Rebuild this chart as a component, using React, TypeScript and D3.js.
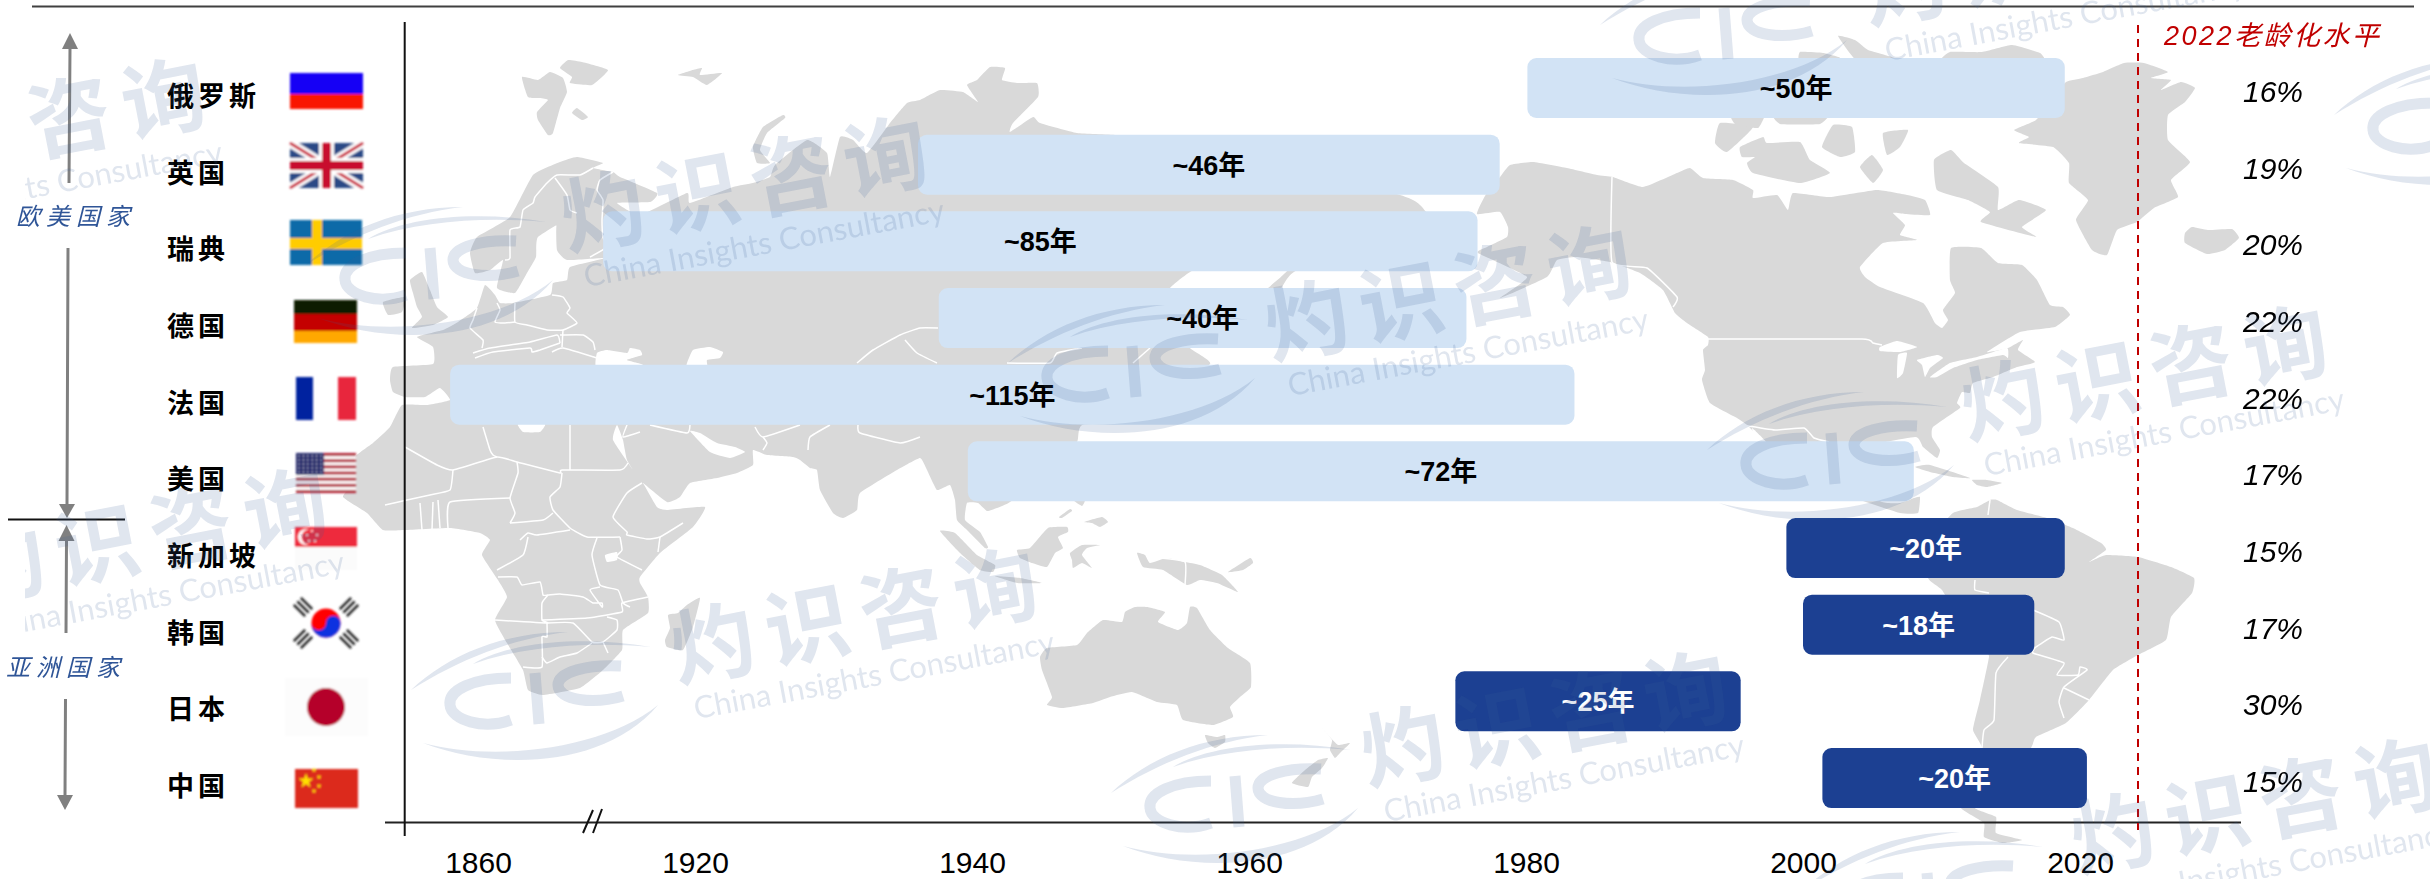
import { useEffect, useRef } from "react";
import * as d3 from "d3";

const WIDTH = 2430;
const HEIGHT = 879;

// chart data
const countries = ["俄罗斯", "英国", "瑞典", "德国", "法国", "美国", "新加坡", "韩国", "日本", "中国"];
const startYears = [1980.1, 1936.1, 1894.6, 1937.6, 1852.3, 1939.7, 1998.8, 2000, 1974.9, 2001.4];
const endYears = [2018.9, 1978.1, 1976.5, 1975.7, 1983.5, 2008, 2018.9, 2016.7, 1995.5, 2020.5];
const durations = ["~50年", "~46年", "~85年", "~40年", "~115年", "~72年", "~20年", "~18年", "~25年", "~20年"];
const agingRates = ["16%", "19%", "20%", "22%", "22%", "17%", "15%", "17%", "30%", "15%"];
const asianCountries = ["新加坡", "韩国", "日本", "中国"];
const tickYears = [1860, 1920, 1940, 1960, 1980, 2000, 2020];

// background map outlines, hand traced in page pixels
const afroEurasia = [[470,253],[477,237],[510,217],[533,175],[560,162],[577,157],[603,163],[593,168],[613,172],[620,177],[657,193],[650,202],[617,203],[640,215],[687,193],[690,203],[733,187],[753,183],[770,177],[775,165],[807,140],[827,153],[830,177],[840,137],[853,140],[867,153],[890,123],[907,103],[920,100],[940,90],[963,92],[978,102],[967,85],[977,80],[990,67],[1005,68],[1002,80],[1017,83],[1037,83],[1038,97],[1013,123],[1010,132],[1033,117],[1040,123],[1077,133],[1117,135],[1200,140],[1300,165],[1400,195],[1413,200],[1422,207],[1440,240],[1298,270],[1280,290],[1266,290],[1288,268],[1210,265],[1190,272],[1170,288],[1165,310],[1190,348],[1210,364],[1150,400],[1082,425],[1077,442],[1050,470],[1010,502],[997,508],[987,511],[978,503],[967,503],[965,520],[980,532],[988,547],[985,548],[967,530],[957,520],[955,500],[950,485],[937,490],[927,470],[920,458],[897,470],[860,493],[857,510],[843,518],[833,513],[820,490],[817,470],[810,468],[800,460],[793,457],[767,455],[753,450],[753,465],[737,473],[717,478],[690,483],[680,497],[667,502],[640,480],[627,460],[623,440],[617,425],[613,440],[633,470],[643,483],[657,507],[667,510],[705,507],[693,527],[660,553],[640,577],[640,583],[648,597],[648,613],[623,630],[622,650],[603,670],[580,688],[543,695],[528,690],[523,670],[507,643],[495,620],[507,597],[498,580],[482,555],[490,540],[480,533],[450,528],[405,530],[383,530],[367,513],[343,497],[353,483],[355,457],[373,443],[390,427],[402,405],[427,405],[450,400],[440,388],[425,397],[405,397],[393,392],[390,380],[393,367],[433,364],[433,347],[417,337],[443,330],[458,322],[477,308],[485,285],[495,295],[500,303],[513,303],[550,295],[553,283],[567,280],[570,267],[605,258],[567,260],[557,250],[557,223],[577,213],[538,237],[536,257],[527,273],[515,293],[497,288],[503,260],[490,270],[475,273]];
const northAmerica = [[1485,196],[1500,177],[1510,165],[1533,162],[1567,168],[1597,175],[1613,177],[1643,187],[1677,173],[1690,168],[1703,178],[1733,180],[1753,190],[1753,198],[1777,195],[1788,210],[1793,193],[1830,197],[1877,190],[1907,195],[1925,200],[1930,215],[1905,214],[1893,213],[1905,225],[1900,235],[1917,240],[1883,243],[1860,267],[1865,277],[1880,287],[1923,303],[1935,323],[1942,328],[1948,320],[1943,310],[1955,293],[1950,280],[1951,248],[1981,248],[1998,263],[2022,265],[2037,280],[2050,305],[2063,307],[2070,315],[2055,327],[2020,332],[1987,352],[2008,348],[2023,340],[2018,350],[2035,362],[2017,367],[1993,377],[1973,383],[1970,393],[1962,392],[1957,403],[1960,408],[1933,427],[1932,437],[1940,450],[1937,458],[1923,447],[1915,437],[1850,450],[1845,480],[1882,502],[1900,503],[1914,498],[1920,497],[1918,513],[1900,513],[1860,500],[1800,480],[1764,442],[1747,425],[1737,418],[1710,403],[1702,380],[1705,370],[1703,350],[1708,345],[1708,337],[1687,323],[1675,313],[1663,290],[1640,273],[1610,262],[1577,257],[1557,260],[1547,277],[1500,298],[1527,277],[1478,253],[1487,247],[1507,237],[1508,227],[1500,212],[1477,214]];
const southAmerica = [[1953,513],[1977,507],[1990,500],[1997,500],[2017,510],[2047,518],[2073,528],[2101,543],[2106,550],[2089,562],[2106,555],[2138,557],[2171,567],[2194,578],[2192,593],[2171,617],[2166,640],[2138,655],[2113,670],[2089,700],[2066,723],[2036,737],[2031,748],[2000,790],[1975,808],[1996,817],[1996,833],[2022,840],[2003,843],[1984,837],[1984,823],[1961,808],[1975,790],[1982,748],[1973,730],[1980,700],[1989,657],[1985,650],[1960,620],[1942,590],[1928,578],[1930,540]];
const greenland = [[2066,82],[2083,78],[2103,72],[2124,63],[2144,63],[2168,72],[2151,78],[2171,80],[2161,90],[2181,82],[2195,88],[2185,102],[2168,115],[2168,140],[2190,162],[2171,180],[2178,197],[2154,208],[2137,222],[2117,230],[2107,255],[2092,250],[2076,220],[2088,200],[2069,183],[2069,163],[2053,147],[2019,143],[2029,137],[2014,130],[2036,120],[2052,100]];
const otherLand = [
  [[1047,648],[1077,645],[1087,633],[1103,620],[1122,622],[1125,612],[1135,607],[1147,607],[1165,612],[1158,622],[1178,630],[1187,623],[1190,607],[1197,608],[1210,630],[1228,648],[1250,663],[1251,687],[1240,697],[1230,707],[1233,717],[1213,725],[1183,720],[1177,705],[1157,702],[1132,692],[1110,697],[1093,703],[1063,708],[1047,705],[1052,697],[1042,670],[1040,657]],
  [[1205,735],[1217,737],[1225,735],[1225,742],[1215,748],[1208,743]],
  [[1322,728],[1330,737],[1338,745],[1350,743],[1340,753],[1335,758],[1330,750],[1332,740]],
  [[1318,760],[1328,758],[1322,768],[1312,777],[1308,787],[1292,783],[1305,770]],
  [[1137,553],[1145,555],[1150,563],[1167,558],[1185,562],[1200,565],[1222,575],[1238,592],[1217,583],[1200,580],[1187,585],[1163,570],[1143,567]],
  [[1228,572],[1250,558],[1253,563],[1243,570]],
  [[940,531],[955,533],[977,555],[995,565],[993,572],[980,570],[960,553]],
  [[995,576],[1020,578],[1042,583],[1017,583]],
  [[1017,550],[1030,548],[1048,528],[1067,527],[1068,532],[1058,537],[1063,548],[1055,553],[1047,567],[1032,563],[1020,558]],
  [[1070,553],[1082,545],[1100,545],[1087,548],[1082,555],[1092,568],[1082,563],[1073,568],[1072,560]],
  [[1084,522],[1102,517],[1108,522],[1100,527],[1092,523]],
  [[1059,517],[1070,509],[1072,511],[1062,518]],
  [[1073,500],[1085,500],[1082,506]],
  [[700,598],[687,605],[678,613],[668,615],[670,628],[665,640],[667,647],[683,650],[693,627]],
  [[410,280],[422,272],[430,290],[437,307],[448,317],[433,325],[412,328],[422,317],[417,307],[413,293]],
  [[383,302],[405,297],[402,312],[388,315]],
  [[522,77],[538,80],[550,72],[563,78],[567,92],[560,108],[553,133],[548,135],[538,120],[537,112],[548,100],[540,98],[528,97]],
  [[560,68],[568,60],[582,62],[608,70],[592,85],[570,83],[572,77]],
  [[572,113],[577,108],[588,117],[582,120]],
  [[678,75],[693,70],[702,68],[700,75],[722,73],[707,85],[693,77]],
  [[783,115],[763,127],[753,147],[757,163],[770,163],[760,150],[767,133],[785,118]],
  [[2185,233],[2192,227],[2208,230],[2232,229],[2239,238],[2225,250],[2207,254],[2185,243]],
  [[1915,467],[1930,465],[1970,478],[1953,477],[1930,472]],
  [[1972,480],[1987,480],[2002,483],[1987,487],[1977,485]],
  [[1934,160],[1951,150],[1964,163],[1998,187],[1998,210],[2019,200],[2046,210],[2022,227],[2036,237],[1981,222],[1990,212],[1968,200],[1937,190]],
  [[1720,123],[1753,127],[1727,152],[1715,143]],
  [[1740,147],[1763,137],[1767,143],[1800,142],[1810,160],[1830,173],[1800,183],[1753,173],[1747,163],[1755,157],[1742,157]],
  [[1822,147],[1833,125],[1852,127],[1855,152],[1840,157]],
  [[1883,133],[1908,130],[1900,147],[1887,155]],
  [[1860,167],[1872,155],[1883,170],[1873,183]],
  [[1730,112],[1765,112],[1758,128],[1735,124]],
  [[1772,112],[1830,112],[1820,124],[1780,124]],
  [[1800,52],[1823,53],[1840,58],[1800,62]],
  [[1838,36],[1855,40],[1868,50],[1885,55],[1905,62],[1860,64]],
  [[1941,60],[1950,52],[1982,52],[2012,45],[2040,53],[2045,60],[2040,68],[1960,68]],
];
const waters = [
  [[597,353],[607,350],[627,353],[630,348],[640,350],[642,355],[627,360],[643,365],[597,368]],
  [[687,363],[693,350],[710,347],[723,352],[720,358],[707,360],[707,368],[687,368]],
  [[690,431],[710,452],[730,458],[745,452],[735,447],[717,443],[700,433]],
  [[518,424],[545,424],[540,432],[523,432]],
  [[605,555],[617,552],[617,560],[607,562]],
  [[1880,347],[1897,341],[1917,347],[1900,352],[1880,351]],
  [[1898,355],[1907,353],[1903,373],[1897,378]],
  [[1917,360],[1937,355],[1943,358],[1930,368],[1925,377],[1922,365]],
  [[1930,377],[1950,363],[1977,357],[2007,348],[2008,358],[2003,355],[1977,360],[1953,368],[1937,377]],
  [[1752,428],[1768,444],[1758,444]],
];
const borders = [
  [[593,168],[580,175],[557,175],[547,183],[535,197],[533,203],[523,210],[520,227],[510,230],[510,258],[505,260]],
  [[555,178],[567,195],[570,210],[577,213]],
  [[613,172],[600,180],[597,190],[603,200],[602,220],[603,237],[607,247],[590,257]],
  [[552,295],[563,297],[570,308],[567,313],[577,323],[563,330],[547,330],[527,325],[515,322],[515,303]],
  [[515,322],[505,323],[495,322],[500,310],[497,303]],
  [[477,308],[473,320],[470,328],[483,340],[482,348]],
  [[563,330],[562,347]],
  [[560,335],[583,335],[593,342],[595,350]],
  [[473,353],[490,348],[530,342],[557,335],[560,343]],
  [[475,358],[493,352],[530,348],[532,352],[540,350],[560,343]],
  [[552,352],[563,348],[597,358]],
  [[857,363],[873,350],[900,335],[920,328],[938,328]],
  [[905,340],[917,353],[937,363]],
  [[1007,363],[1050,363],[1057,353],[1082,348]],
  [[1133,363],[1150,348]],
  [[483,427],[490,450],[493,455],[497,457]],
  [[570,425],[570,470]],
  [[627,425],[623,437],[640,432]],
  [[650,425],[687,433],[690,425]],
  [[755,427],[763,437],[800,425]],
  [[763,437],[767,443],[763,450]],
  [[830,425],[810,437],[808,450]],
  [[858,425],[860,433],[900,443],[920,437]],
  [[405,447],[437,465],[453,470],[497,457],[517,462],[560,473],[562,470],[620,470],[628,463]],
  [[453,470],[450,490],[430,495],[407,500],[385,505]],
  [[517,462],[518,473],[510,498],[515,513],[510,523]],
  [[562,473],[560,487],[550,497],[553,510],[570,528],[587,537],[620,537]],
  [[642,483],[627,493],[613,517],[627,532],[627,535],[647,539],[660,537],[683,523]],
  [[510,523],[543,520],[553,513]],
  [[570,530],[537,535],[528,533],[520,540]],
  [[510,498],[450,502],[448,528]],
  [[433,502],[432,530]],
  [[420,503],[422,530]],
  [[438,500],[440,528]],
  [[597,538],[592,555],[600,585],[618,590],[623,603],[630,607]],
  [[620,537],[622,550],[617,557],[642,570]],
  [[660,537],[658,552]],
  [[528,537],[523,555],[497,570]],
  [[498,577],[517,577],[522,585],[540,582],[543,595],[548,595],[560,594],[583,597],[593,603],[602,603],[602,607],[590,590],[600,587]],
  [[548,595],[542,603],[542,620],[547,623],[495,620]],
  [[542,620],[587,618],[622,612],[622,603],[648,597]],
  [[547,623],[547,637],[542,637],[542,667],[523,667]],
  [[547,623],[573,623],[592,642],[603,642],[617,630],[617,620],[607,617]],
  [[542,657],[547,663],[560,657],[577,653],[592,643]],
  [[603,642],[608,653]],
  [[2008,657],[1996,673],[1994,720],[1984,730],[1982,748]],
  [[2033,610],[2059,622],[2064,640],[2052,637],[2036,647],[2033,653],[2064,663],[2057,675],[2078,675],[2080,667],[2087,670],[2064,687],[2059,702],[2064,718]],
  [[2064,688],[2089,700]],
  [[1975,580],[1975,590],[1989,593]],
  [[1708,339],[1862,339],[1873,343],[1882,345]],
  [[1612,177],[1612,262],[1647,268],[1677,297],[1673,307]],
  [[1743,425],[1775,430],[1804,428],[1814,438],[1829,442]],
  [[1990,500],[1988,515]],
  [[1160,558],[1185,562],[1185,585]],
];

// watermark stamp anchors
const logoStamps = [[428,275],[1130,373],[1829,460],[1722,35],[2456,125],[533,700],[1233,803],[1925,900]];
const textStamps = [[28,125],[150,535],[750,183],[860,615],[1454,292],[1550,718],[2150,372],[2260,805],[2051,-43]];

const drawFlag: Record<string, (g: any) => void> = {
  俄罗斯: (g) => {
    g.append("rect").attr("x", 290).attr("y", 73).attr("width", 73).attr("height", 21).attr("fill", "#1404F5");
    g.append("rect").attr("x", 290).attr("y", 94).attr("width", 73).attr("height", 15).attr("fill", "#F91400");
  },
  英国: (g) => {
    g.append("rect").attr("x", 290).attr("y", 143).attr("width", 73).attr("height", 45).attr("fill", "#2A4A86");
    const cross = (stroke: string, w: number) => {
      g.append("path").attr("d", "M290,143L363,188M363,143L290,188").attr("stroke", stroke).attr("stroke-width", w);
    };
    cross("#fff", 9);
    cross("#C8102E", 3);
    g.append("path").attr("d", "M326.5,143V188M290,165.5H363").attr("stroke", "#fff").attr("stroke-width", 15);
    g.append("path").attr("d", "M326.5,143V188M290,165.5H363").attr("stroke", "#C8102E").attr("stroke-width", 9);
  },
  瑞典: (g) => {
    g.append("rect").attr("x", 290).attr("y", 220).attr("width", 72).attr("height", 45).attr("fill", "#0A6AA8");
    g.append("rect").attr("x", 312).attr("y", 220).attr("width", 10).attr("height", 45).attr("fill", "#FFCC00");
    g.append("rect").attr("x", 290).attr("y", 238).attr("width", 72).attr("height", 11).attr("fill", "#FFCC00");
  },
  德国: (g) => {
    g.append("rect").attr("x", 294).attr("y", 300).attr("width", 63).attr("height", 14).attr("fill", "#0A1A00");
    g.append("rect").attr("x", 294).attr("y", 314).attr("width", 63).attr("height", 17).attr("fill", "#C40000");
    g.append("rect").attr("x", 294).attr("y", 331).attr("width", 63).attr("height", 12).attr("fill", "#FFA800");
  },
  法国: (g) => {
    g.append("rect").attr("x", 296).attr("y", 377).attr("width", 17).attr("height", 43).attr("fill", "#00209F");
    g.append("rect").attr("x", 338).attr("y", 377).attr("width", 18).attr("height", 43).attr("fill", "#E8273C");
  },
  美国: (g) => {
    g.append("rect").attr("x", 296).attr("y", 453).attr("width", 60).attr("height", 40).attr("fill", "#fff");
    d3.range(0, 13, 2).forEach((i) => {
      g.append("rect").attr("x", 296).attr("y", 453 + i * 3.08).attr("width", 60).attr("height", 3.08).attr("fill", "#B22234");
    });
    g.append("rect").attr("x", 296).attr("y", 453).attr("width", 28).attr("height", 22).attr("fill", "#1A2068");
    d3.range(5).forEach((r) => d3.range(6).forEach((c) => {
      g.append("circle").attr("cx", 299 + c * 4.4).attr("cy", 456 + r * 4).attr("r", 0.8).attr("fill", "#fff");
    }));
  },
  新加坡: (g) => {
    g.append("rect").attr("x", 295).attr("y", 527).attr("width", 62).attr("height", 43).attr("fill", "#FBFBFB");
    g.append("rect").attr("x", 295).attr("y", 527).attr("width", 62).attr("height", 20).attr("fill", "#EE2A3C");
    g.append("circle").attr("cx", 306).attr("cy", 537).attr("r", 8).attr("fill", "#fff");
    g.append("circle").attr("cx", 309).attr("cy", 537).attr("r", 7.5).attr("fill", "#EE2A3C");
    [[311, 531], [316, 535], [314, 541], [308, 541], [306, 535]].forEach(([cx, cy]) => {
      g.append("circle").attr("cx", cx + 1).attr("cy", cy).attr("r", 1).attr("fill", "#fff");
    });
  },
  韩国: (g) => {
    const cx = 326, cy = 623, r = 14.5;
    g.append("circle").attr("cx", cx).attr("cy", cy).attr("r", r).attr("fill", "#FF0000");
    g.append("path")
      .attr("d", `M${cx - r},${cy}A${r},${r} 0 0 0 ${cx + r},${cy}A${r / 2},${r / 2} 0 0 0 ${cx},${cy}A${r / 2},${r / 2} 0 0 1 ${cx - r},${cy}Z`)
      .attr("fill", "#0F30E0");
    [[-23, -16, 45], [23, -16, -45], [-23, 16, -45], [23, 16, 45]].forEach(([dx, dy, a]) => {
      const tri = g.append("g").attr("transform", `translate(${cx + dx},${cy + dy}) rotate(${a})`);
      [-5, 0, 5].forEach((off) => {
        tri.append("rect").attr("x", -8).attr("y", off - 1.3).attr("width", 16).attr("height", 2.6).attr("fill", "#222");
      });
    });
  },
  日本: (g) => {
    g.append("rect").attr("x", 285).attr("y", 678).attr("width", 83).attr("height", 58).attr("fill", "#FCFCFC");
    g.append("circle").attr("cx", 326).attr("cy", 707).attr("r", 19).attr("fill", "#B5002C");
  },
  中国: (g) => {
    g.append("rect").attr("x", 295).attr("y", 769).attr("width", 63).attr("height", 39).attr("fill", "#DC2A1C");
    const star = d3.symbol().type(d3.symbolStar);
    g.append("path").attr("d", star.size(70)()).attr("transform", "translate(306,781)").attr("fill", "#FFE000");
    [[314, 770], [319, 777], [319, 786], [314, 791]].forEach(([x, y]) => {
      g.append("path").attr("d", star.size(8)()).attr("transform", `translate(${x},${y})`).attr("fill", "#FFE000");
    });
  },
};

const App = () => {
  const ref = useRef<SVGSVGElement>(null);

  useEffect(() => {
    const svg = d3.select(ref.current);
    svg.selectAll("*").remove();

    const sans = "'Liberation Sans','Noto Sans CJK SC',sans-serif";
    const cjk = "'Noto Sans CJK SC',sans-serif";

    // axis is broken between 1860 and 1920
    const x = d3.scaleLinear().domain([1860, 1920, 2020]).range([478, 695, 2080]);
    const y = d3.scaleBand().domain(countries).range([49.67, 816.37]).paddingInner(0.2174).paddingOuter(0.1087);

    const defs = svg.append("defs");
    defs.append("filter").attr("id", "flagBlur").append("feGaussianBlur").attr("stdDeviation", 0.8);
    defs.append("clipPath").attr("id", "stampClip").append("rect").attr("x", 25).attr("y", 0).attr("width", WIDTH - 25).attr("height", HEIGHT);

    // map
    const closed = d3.line().curve(d3.curveCardinalClosed.tension(0.6));
    const open = d3.line().curve(d3.curveCardinal.tension(0.6));
    const map = svg.append("g");
    map.selectAll("path.land")
      .data([afroEurasia, northAmerica, southAmerica, greenland, ...otherLand])
      .join("path").attr("class", "land").attr("d", (d: any) => closed(d)).attr("fill", "#D9D9D9");
    map.selectAll("path.water")
      .data(waters)
      .join("path").attr("class", "water").attr("d", (d: any) => closed(d)).attr("fill", "#fff");
    map.selectAll("path.border")
      .data(borders)
      .join("path").attr("class", "border").attr("d", (d: any) => open(d))
      .attr("fill", "none").attr("stroke", "#fff").attr("stroke-width", 1.5);

    // top rule
    svg.append("line").attr("x1", 32).attr("x2", 2414).attr("y1", 6.5).attr("y2", 6.5).attr("stroke", "#404040").attr("stroke-width", 2);

    // axes
    const axis = svg.append("g").attr("transform", "translate(0,822.5)")
      .call(d3.axisBottom(x).tickValues(tickYears).tickFormat(d3.format("d")).tickSize(0) as any);
    axis.select(".domain").remove();
    axis.selectAll("text").attr("y", 50.5).attr("dy", 0).attr("fill", "#000")
      .attr("font-family", sans).attr("font-size", 30);
    svg.append("line").attr("x1", 385).attr("x2", 2241).attr("y1", 822.5).attr("y2", 822.5).attr("stroke", "#222").attr("stroke-width", 2);
    svg.append("line").attr("x1", 404.7).attr("x2", 404.7).attr("y1", 22).attr("y2", 836).attr("stroke", "#111").attr("stroke-width", 2);
    svg.append("path").attr("d", "M583,833L593,810M593,833L602,809").attr("stroke", "#111").attr("stroke-width", 2).attr("fill", "none");

    // duration bars
    const rows = countries.map((name, i) => ({ name, start: startYears[i], end: endYears[i], label: durations[i], rate: agingRates[i] }));
    const isAsian = (d: any) => asianCountries.includes(d.name);
    svg.append("g").selectAll("rect").data(rows).join("rect")
      .attr("x", (d) => x(d.start))
      .attr("width", (d) => x(d.end) - x(d.start))
      .attr("y", (d) => y(d.name)!)
      .attr("height", y.bandwidth())
      .attr("rx", 9)
      .attr("fill", (d) => (isAsian(d) ? "#1C4092" : "#D2E3F5"));
    svg.append("g").selectAll("text").data(rows).join("text")
      .attr("x", (d) => (x(d.start) + x(d.end)) / 2)
      .attr("y", (d) => y(d.name)! + y.bandwidth() / 2 + 10)
      .attr("text-anchor", "middle")
      .attr("font-family", sans).attr("font-weight", "bold").attr("font-size", 27)
      .attr("fill", (d) => (isAsian(d) ? "#fff" : "#000"))
      .text((d) => d.label);

    // country names and flags
    svg.append("g").selectAll("text").data(rows).join("text")
      .attr("x", 167)
      .attr("y", (d) => y(d.name)! + y.bandwidth() / 2 + 18)
      .attr("font-family", cjk).attr("font-weight", "bold").attr("font-size", 27).attr("letter-spacing", 4)
      .attr("fill", "#000")
      .text((d) => d.name);
    const flags = svg.append("g").attr("filter", "url(#flagBlur)");
    countries.forEach((name) => drawFlag[name](flags.append("g").attr("fill", "none")));

    // 2022 ageing level column
    svg.append("line").attr("x1", 2138).attr("x2", 2138).attr("y1", 25).attr("y2", 830)
      .attr("stroke", "#C00000").attr("stroke-width", 2).attr("stroke-dasharray", "8,6");
    svg.append("text").attr("x", 2164).attr("y", 45)
      .attr("font-family", sans).attr("font-style", "italic").attr("font-size", 27).attr("letter-spacing", 2.5)
      .attr("fill", "#C00000").text("2022老龄化水平");
    svg.append("g").selectAll("text").data(rows).join("text")
      .attr("x", 2303)
      .attr("y", (d) => y(d.name)! + y.bandwidth() / 2 + 14)
      .attr("text-anchor", "end")
      .attr("font-family", sans).attr("font-style", "italic").attr("font-size", 30)
      .attr("fill", "#000")
      .text((d) => d.rate);

    // region brackets on the left
    const grey = "#808080";
    const bracket = svg.append("g").attr("stroke", grey).attr("stroke-width", 3);
    bracket.append("path").attr("d", "M70,48L69,183M68,248L67,505M66.5,541L66,633M65.5,699L65,796");
    const head = (cx: number, tip: number, base: number) => {
      svg.append("path").attr("d", `M${cx},${tip}L${cx - 8},${base}L${cx + 8},${base}Z`).attr("fill", grey);
    };
    head(70, 33, 49);
    head(67, 518, 504);
    head(66.5, 525, 541);
    head(65, 810, 795);
    svg.append("line").attr("x1", 8).attr("x2", 125).attr("y1", 519.5).attr("y2", 519.5).attr("stroke", "#111").attr("stroke-width", 2);
    [["欧美国家", 76, 225], ["亚洲国家", 66, 676]].forEach(([label, lx, ly]) => {
      svg.append("text").attr("x", lx as number).attr("y", ly as number).attr("text-anchor", "middle")
        .attr("font-family", cjk).attr("font-style", "italic").attr("font-size", 24).attr("letter-spacing", 6)
        .attr("fill", "#2F5597").text(label as string);
    });

    // watermark sits above everything
    const stamp = svg.append("g").attr("clip-path", "url(#stampClip)").append("g").attr("opacity", 0.16).attr("fill", "#3D5F96");
    logoStamps.forEach(([lx, ly]) => {
      const logo = stamp.append("g").attr("transform", `translate(${lx},${ly})`);
      logo.append("path").attr("d", "M-122,-10C-85,-45 -30,-68 35,-68C-20,-62 -75,-40 -122,-10Z");
      logo.append("path").attr("d", "M-60,-36C-25,-58 50,-65 118,-53C60,-58 -5,-55 -60,-36Z");
      logo.append("path").attr("d", "M-110,43C-40,70 70,70 125,5C70,50 -40,62 -110,43Z");
      logo.append("path").attr("fill", "none").attr("stroke", "#3D5F96").attr("stroke-width", 11)
        .attr("d", "M-22,-22C-60,-22 -85,-10 -83,5C-82,20 -50,30 -22,20M2,-27L6,24M88,-34C55,-36 25,-28 25,-15C25,0 60,5 90,-4");
    });
    textStamps.forEach(([tx, ty]) => {
      stamp.append("text").attr("transform", `translate(${tx},${ty}) rotate(-11)`)
        .attr("y", 31).attr("text-anchor", "middle")
        .attr("font-family", cjk).attr("font-weight", "bold").attr("font-size", 84).attr("letter-spacing", 12)
        .text("灼识咨询");
      stamp.append("text").attr("transform", `translate(${tx + 14},${ty + 60}) rotate(-10.5)`)
        .attr("y", 11).attr("text-anchor", "middle")
        .attr("font-family", "Lato,sans-serif").attr("font-size", 31)
        .text("China Insights Consultancy");
    });
  }, []);

  return <svg ref={ref} width={WIDTH} height={HEIGHT} style={{ position: "absolute", left: 0, top: 0, background: "#fff" }} />;
};

export default App;
